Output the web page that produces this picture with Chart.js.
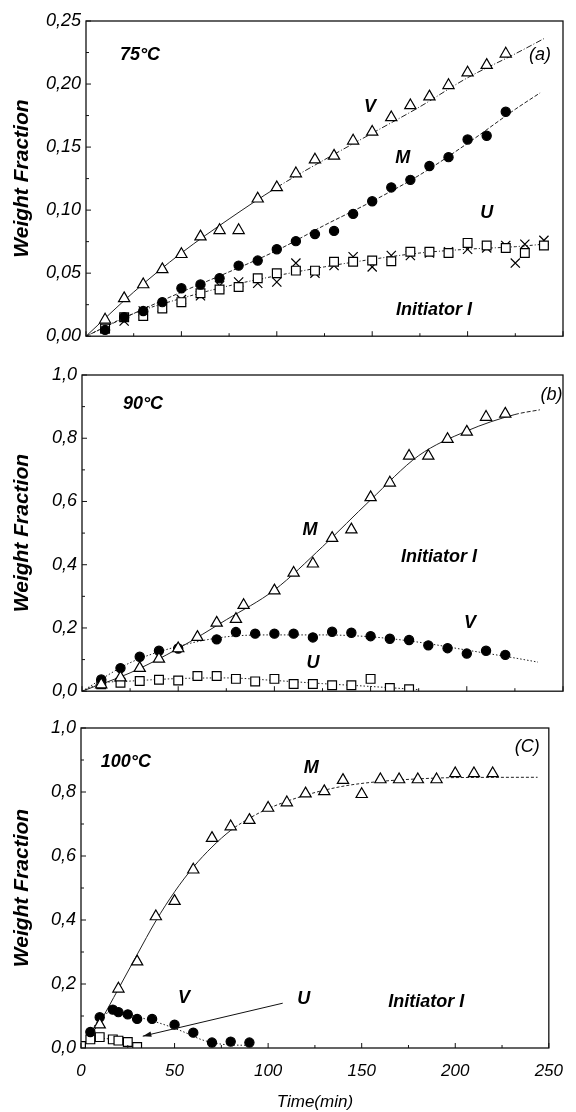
<!DOCTYPE html>
<html><head><meta charset="utf-8">
<script src="https://cdn.jsdelivr.net/npm/chart.js@4.4.1/dist/chart.umd.min.js"></script>
<style>
html,body{margin:0;padding:0;background:#fff;width:576px;height:1112px;overflow:hidden;}
canvas{position:absolute;left:0;}
</style></head><body>
<canvas id="cA" width="576" height="352" style="top:0px"></canvas>
<canvas id="cB" width="576" height="352" style="top:355px"></canvas>
<canvas id="cC" width="576" height="402" style="top:710px"></canvas>
<script>
// ---------- tick labels ----------
const xTickVals = [0, 50, 100, 150, 200, 250];
const xTickLabels = ['0', '50', '100', '150', '200', '250'];
const yTickValsA = [0, 0.05, 0.10, 0.15, 0.20, 0.25];
const yTickLabelsA = ['0,00', '0,05', '0,10', '0,15', '0,20', '0,25'];
const yTickValsBC = [0, 0.2, 0.4, 0.6, 0.8, 1.0];
const yTickLabelsBC = ['0,0', '0,2', '0,4', '0,6', '0,8', '1,0'];

// ---------- panel (a) 75°C ----------
const tA = [10,20,30,40,50,60,70,80,90,100,110,120,130,140,150,160,170,180,190,200,210,220];
const vA = [0.013,0.030,0.041,0.053,0.065,0.079,0.084,0.084,0.109,0.118,0.129,0.140,0.143,0.155,0.162,0.1735,0.183,0.190,0.199,0.209,0.215,0.224];
const mA = [0.005,0.015,0.020,0.027,0.038,0.041,0.046,0.056,0.060,0.069,0.0754,0.081,0.0835,0.097,0.107,0.118,0.124,0.135,0.142,0.156,0.159,0.178];
const tA_U = [10,20,30,40,50,60,70,80,90,100,110,120,130,140,150,160,170,180,190,200,210,220,230,240];
const uA = [0.006,0.015,0.016,0.022,0.027,0.034,0.037,0.039,0.046,0.050,0.052,0.052,0.059,0.059,0.060,0.0595,0.067,0.067,0.066,0.074,0.072,0.070,0.066,0.072];
const tA_I = [10,20,30,40,50,60,70,80,90,100,110,120,130,140,150,160,170,180,190,200,210,220,225,230,240];
const iA = [0.006,0.012,0.020,0.023,0.029,0.032,0.040,0.043,0.042,0.043,0.058,0.050,0.056,0.063,0.055,0.064,0.064,0.066,0.067,0.069,0.070,0.072,0.058,0.073,0.076];
// fitted curves (a)
const fitA_Vt = [0,25,50,75,100,125,150,175,200,225,240];
const fitA_V  = [0,0.035,0.066,0.093,0.118,0.140,0.161,0.182,0.205,0.224,0.236];
const fitA_Mt = [0,25,50,75,100,125,150,175,200,225,238];
const fitA_M  = [0,0.018,0.035,0.051,0.068,0.088,0.107,0.128,0.153,0.180,0.193];
const fitA_Ut = [0,25,50,75,100,125,150,175,200,225,240];
const fitA_U  = [0,0.018,0.030,0.040,0.048,0.055,0.061,0.066,0.069,0.071,0.073];

// ---------- panel (b) 90°C ----------
const tB_M = [10,20,30,40,50,60,70,80,84,100,110,120,130,140,150,160,170,180,190,200,210,220];
const mB = [0.021,0.043,0.073,0.102,0.135,0.171,0.216,0.228,0.272,0.318,0.374,0.403,0.484,0.511,0.613,0.659,0.744,0.744,0.797,0.820,0.867,0.877];
const tB_V = [10,20,30,40,50,70,80,90,100,110,120,130,140,150,160,170,180,190,200,210,220];
const vB = [0.037,0.073,0.109,0.128,0.135,0.164,0.187,0.182,0.182,0.182,0.170,0.188,0.185,0.174,0.166,0.162,0.145,0.136,0.119,0.128,0.115];
const tB_U = [10,20,30,40,50,60,70,80,90,100,110,120,130,140,150,160,170];
const uB = [0.022,0.027,0.032,0.036,0.034,0.048,0.048,0.039,0.031,0.039,0.023,0.023,0.019,0.019,0.039,0.010,0.006];
const fitB_Mt = [0,25,50,75,100,125,150,175,200,225,238];
const fitB_M  = [0,0.058,0.135,0.226,0.320,0.457,0.605,0.745,0.823,0.875,0.890];
const fitB_Vt = [0,25,50,75,100,125,150,175,200,225,237];
const fitB_V  = [0,0.090,0.142,0.172,0.178,0.178,0.172,0.155,0.130,0.105,0.092];
const fitB_Ut = [0,10,25,50,75,100,125,150,175];
const fitB_U  = [0,0.025,0.032,0.040,0.042,0.034,0.024,0.015,0.005];

// ---------- panel (c) 100°C ----------
const tC_M = [10,20,30,40,50,60,70,80,90,100,110,120,130,140,150,160,170,180,190,200,210,220];
const mC = [0.073,0.185,0.270,0.411,0.459,0.557,0.656,0.692,0.712,0.750,0.767,0.795,0.802,0.837,0.793,0.839,0.839,0.839,0.839,0.858,0.858,0.858];
const tC_V = [5,10,17,20,25,30,38,50,60,70,80,90];
const vC = [0.050,0.096,0.120,0.112,0.105,0.091,0.091,0.073,0.048,0.017,0.020,0.017];
const tC_U = [0,5,10,17,20,25,30];
const uC = [0.006,0.027,0.034,0.027,0.023,0.019,0.003];
const fitC_Mt = [7,10,20,30,40,50,60,70,80,90,100,120,140,160,180,200,244];
const fitC_M  = [0.055,0.08,0.185,0.292,0.397,0.488,0.565,0.628,0.680,0.718,0.748,0.790,0.818,0.833,0.841,0.845,0.846];
const fitC_Vt = [5,10,17,25,35,45,55,65,75,90];
const fitC_V  = [0.05,0.09,0.115,0.105,0.09,0.072,0.05,0.025,0.012,0.008];
const fitC_Ut = [0,5,10,17,25,30];
const fitC_U  = [0.005,0.025,0.03,0.027,0.017,0.003];

// ---------- helpers ----------
const fontFam = '"Liberation Sans", Arial, Helvetica, sans-serif';
Chart.defaults.font.family = fontFam;
Chart.defaults.color = '#000';

function pts(ts, vs) { return ts.map((t, i) => ({x: t, y: vs[i]})); }

function markerDS(ts, vs, style) {
  const base = {data: pts(ts, vs), showLine: false, borderColor: '#000', borderWidth: 1.2};
  if (style === 'tri') return Object.assign(base, {pointStyle: 'triangle', pointRadius: 6.5, backgroundColor: '#fff'});
  if (style === 'dot') return Object.assign(base, {pointStyle: 'circle', pointRadius: 4.6, backgroundColor: '#000'});
  if (style === 'sq')  return Object.assign(base, {pointStyle: 'rect', pointRadius: 6.2, backgroundColor: '#fff'});
  return Object.assign(base, {pointStyle: 'crossRot', pointRadius: 6.5, backgroundColor: '#000'});
}
function curveDS(ts, vs, dash, solidUntil) {
  const ds = {data: pts(ts, vs), showLine: true, pointRadius: 0, borderColor: '#222', borderWidth: 1,
    cubicInterpolationMode: 'monotone', borderDash: dash, fill: false};
  if (solidUntil != null) ds.segment = {borderDash: c => (c.p0.parsed.x < solidUntil ? [] : dash)};
  return ds;
}

const framePlugin = {
  id: 'frame',
  afterDraw(chart, args, opts) {
    const {ctx, chartArea: a, scales: {x, y}} = chart;
    ctx.save();
    ctx.strokeStyle = '#111';
    ctx.lineWidth = 1.3;
    ctx.strokeRect(a.left, a.top, a.right - a.left, a.bottom - a.top);
    ctx.lineWidth = 1;
    ctx.beginPath();
    const yv = opts.yVals;
    yv.forEach((v, i) => {
      const py = y.getPixelForValue(v);
      ctx.moveTo(a.left, py); ctx.lineTo(a.left + 5, py);
      if (i < yv.length - 1) {
        const pm = y.getPixelForValue((v + yv[i + 1]) / 2);
        ctx.moveTo(a.left, pm); ctx.lineTo(a.left + 3, pm);
      }
    });
    xTickVals.forEach((v, i) => {
      const px = x.getPixelForValue(v);
      ctx.moveTo(px, a.bottom); ctx.lineTo(px, a.bottom - 5);
      if (i < xTickVals.length - 1) {
        const pm = x.getPixelForValue((v + xTickVals[i + 1]) / 2);
        ctx.moveTo(pm, a.bottom); ctx.lineTo(pm, a.bottom - 3);
      }
    });
    ctx.stroke();
    ctx.restore();
  }
};

const annotPlugin = {
  id: 'annot',
  afterDatasetsDraw(chart, args, opts) {
    const {ctx, scales: {x, y}} = chart;
    ctx.save();
    ctx.fillStyle = '#000';
    ctx.textAlign = 'center';
    ctx.textBaseline = 'middle';
    (opts.labels || []).forEach(l => {
      ctx.font = (l.bold ? 'italic bold ' : 'italic ') + l.size + 'px ' + fontFam;
      ctx.fillText(l.text, x.getPixelForValue(l.t), y.getPixelForValue(l.v));
    });
    if (opts.arrow) {
      const ar = opts.arrow;
      const x1 = x.getPixelForValue(ar.from[0]), y1 = y.getPixelForValue(ar.from[1]);
      const x2 = x.getPixelForValue(ar.to[0]), y2 = y.getPixelForValue(ar.to[1]);
      const ang = Math.atan2(y2 - y1, x2 - x1);
      ctx.strokeStyle = '#111';
      ctx.lineWidth = 1;
      ctx.beginPath();
      ctx.moveTo(x1, y1); ctx.lineTo(x2, y2);
      ctx.stroke();
      ctx.beginPath();
      ctx.moveTo(x2, y2);
      ctx.lineTo(x2 - 9 * Math.cos(ang - 0.3), y2 - 9 * Math.sin(ang - 0.3));
      ctx.lineTo(x2 - 9 * Math.cos(ang + 0.3), y2 - 9 * Math.sin(ang + 0.3));
      ctx.closePath();
      ctx.fillStyle = '#111';
      ctx.fill();
    }
    ctx.restore();
  }
};

function makeChart(id, cfg) {
  return new Chart(document.getElementById(id), {
    type: 'scatter',
    data: {datasets: cfg.datasets},
    options: {
      responsive: false, animation: false, devicePixelRatio: 1,
      layout: {padding: {top: cfg.padTop, right: cfg.padRight, left: 0, bottom: 0}},
      plugins: {
        legend: {display: false}, tooltip: {enabled: false},
        frame: {yVals: cfg.yVals},
        annot: {labels: cfg.labels, arrow: cfg.arrow}
      },
      scales: {
        x: {
          type: 'linear', min: 0, max: 250,
          grid: {display: false, drawTicks: false}, border: {display: false},
          afterBuildTicks: s => { s.ticks = xTickVals.map(v => ({value: v})); },
          ticks: {display: cfg.showX, padding: 13, autoSkip: false, maxRotation: 0,
                  font: {size: 17, style: 'italic'}, callback: (v, i) => xTickLabels[i]},
          title: {display: cfg.showX, text: 'Time(min)', font: {size: 17, style: 'italic'}, padding: {top: 0, bottom: 0}},
          afterFit: s => { s.height = cfg.xHeight; }
        },
        y: {
          type: 'linear', min: cfg.ymin, max: cfg.ymax,
          grid: {display: false, drawTicks: false}, border: {display: false},
          afterBuildTicks: s => { s.ticks = cfg.yVals.map(v => ({value: v})); },
          ticks: {padding: 5, autoSkip: false, font: {size: 18, style: 'italic'}, callback: (v, i) => cfg.yLabels[i]},
          title: {display: true, text: 'Weight Fraction', font: {size: 21, weight: 'bold', style: 'italic'}, padding: {top: 10, bottom: 0}},
          afterFit: s => { s.width = cfg.yWidth; }
        }
      }
    },
    plugins: [framePlugin, annotPlugin]
  });
}

// ---------- panel (a) ----------
makeChart('cA', {
  padTop: 21, padRight: 13, yWidth: 86, xHeight: 13, showX: false,
  ymin: 0, ymax: 0.25, yVals: yTickValsA, yLabels: yTickLabelsA,
  datasets: [
    markerDS(tA, vA, 'tri'),
    markerDS(tA, mA, 'dot'),
    markerDS(tA_U, uA, 'sq'),
    markerDS(tA_I, iA, 'x'),
    curveDS(fitA_Vt, fitA_V, [6, 2, 1, 2], 90),
    curveDS(fitA_Mt, fitA_M, [4, 2]),
    curveDS(fitA_Ut, fitA_U, [3, 2, 1, 2])
  ],
  labels: [
    {text: '75°C', t: 28.3, v: 0.223, size: 18, bold: true},
    {text: '(a)', t: 238, v: 0.223, size: 18, bold: false},
    {text: 'V', t: 148.8, v: 0.182, size: 18, bold: true},
    {text: 'M', t: 166, v: 0.141, size: 18, bold: true},
    {text: 'U', t: 210, v: 0.0976, size: 18, bold: true},
    {text: 'Initiator I', t: 182.4, v: 0.0208, size: 18, bold: true}
  ]
});

// ---------- panel (b) ----------
makeChart('cB', {
  padTop: 20, padRight: 13, yWidth: 82, xHeight: 11, showX: false,
  ymin: 0, ymax: 1.0, yVals: yTickValsBC, yLabels: yTickLabelsBC,
  datasets: [
    markerDS(tB_M, mB, 'tri'),
    markerDS(tB_V, vB, 'dot'),
    markerDS(tB_U, uB, 'sq'),
    curveDS(fitB_Mt, fitB_M, [4, 2], 205),
    curveDS(fitB_Vt, fitB_V, [1.5, 2]),
    curveDS(fitB_Ut, fitB_U, [1.5, 2])
  ],
  labels: [
    {text: '90°C', t: 31.7, v: 0.907, size: 18, bold: true},
    {text: '(b)', t: 244, v: 0.938, size: 18, bold: false},
    {text: 'M', t: 118.5, v: 0.511, size: 18, bold: true},
    {text: 'Initiator I', t: 185.5, v: 0.424, size: 18, bold: true},
    {text: 'V', t: 201.7, v: 0.215, size: 18, bold: true},
    {text: 'U', t: 120, v: 0.090, size: 18, bold: true}
  ]
});

// ---------- panel (c) ----------
makeChart('cC', {
  padTop: 18, padRight: 18, yWidth: 81, xHeight: 64, showX: true,
  ymin: 0, ymax: 1.0, yVals: yTickValsBC, yLabels: yTickLabelsBC,
  datasets: [
    markerDS(tC_M, mC, 'tri'),
    markerDS(tC_V, vC, 'dot'),
    markerDS(tC_U, uC, 'sq'),
    curveDS(fitC_Mt, fitC_M, [3, 2], 75),
    curveDS(fitC_Vt, fitC_V, [1.5, 2]),
    curveDS(fitC_Ut, fitC_U, [1.5, 2])
  ],
  labels: [
    {text: '100°C', t: 24, v: 0.894, size: 18, bold: true},
    {text: '(C)', t: 238.5, v: 0.94, size: 18, bold: false},
    {text: 'M', t: 123, v: 0.875, size: 18, bold: true},
    {text: 'V', t: 55, v: 0.156, size: 18, bold: true},
    {text: 'U', t: 119, v: 0.153, size: 18, bold: true},
    {text: 'Initiator I', t: 184.5, v: 0.144, size: 18, bold: true}
  ],
  arrow: {from: [107.8, 0.14], to: [33, 0.037]}
});
</script>
</body></html>
